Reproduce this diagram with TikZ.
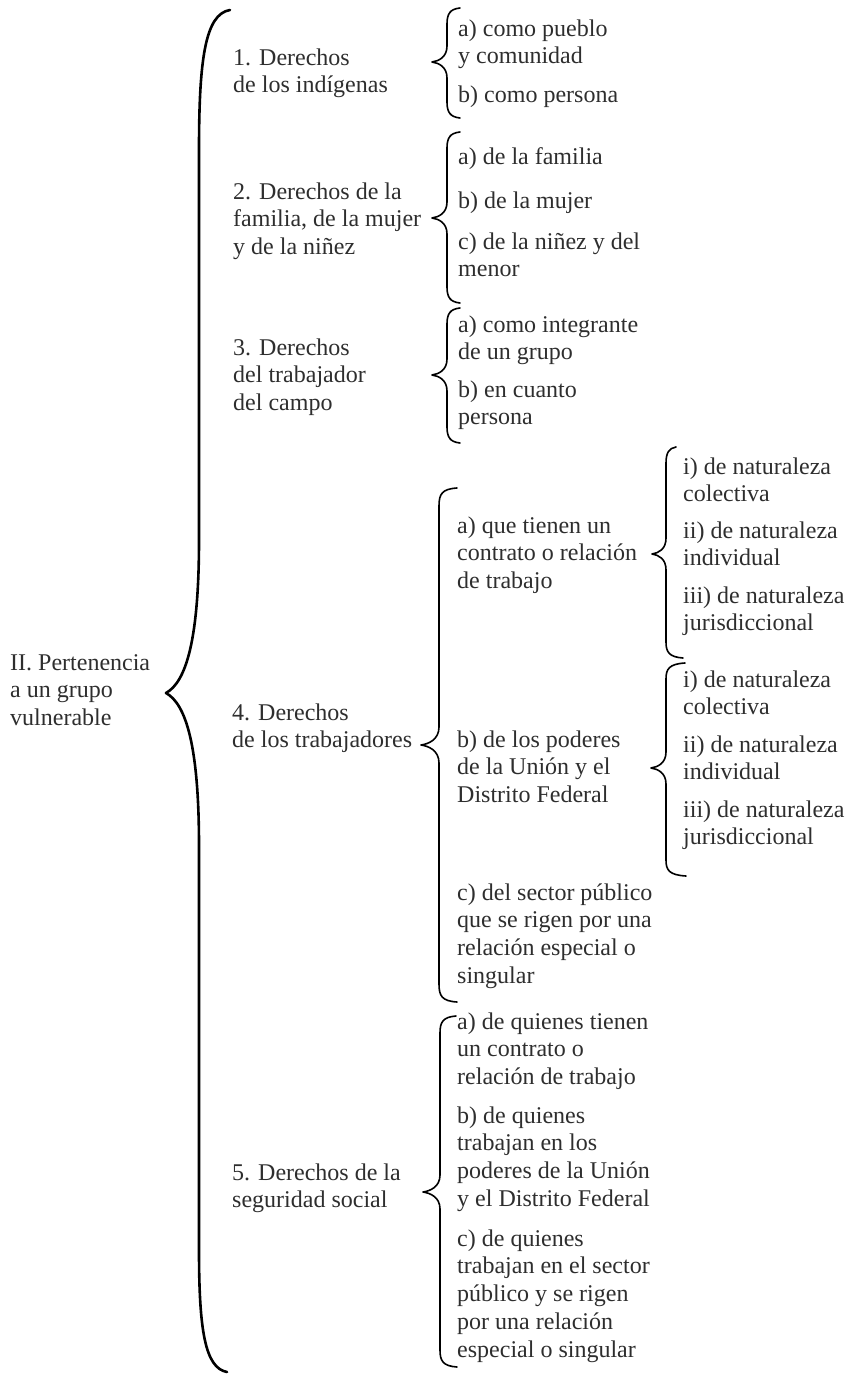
\documentclass[tikz,border=0pt]{standalone}
\usepackage{fontspec}
\setmainfont{Liberation Serif}
\newcommand\sr{\rule{0pt}{20bp}}
% #1,#2 top end; #3 line x; #4,#5 tip; #6,#7 bottom end; #8 curve radius
\newcommand\subbrace[8]{\draw[br] (#1,#2) .. controls (#3+3,#2+1) and (#3,#2+6) .. (#3,#2+#8) -- (#3,#5-#8)
  .. controls (#3,#5-5) and (#4+7,#5-1) .. (#4,#5)
  .. controls (#4+7,#5+1) and (#3,#5+5) .. (#3,#5+#8) -- (#3,#7-#8)
  .. controls (#3,#7-6) and (#3+3,#7-1) .. (#6,#7);}
\begin{document}
\begin{tikzpicture}[x=1bp,y=-1bp,
  txt/.style={anchor=north west,inner sep=0pt,align=left,text=black!82,
    font=\fontsize{24bp}{27.7bp}\selectfont},
  bigbr/.style={draw=black,line width=2.6bp,line cap=round,line join=round},
  br/.style={draw=black,line width=1.6bp,line cap=round,line join=round}]
\useasboundingbox (0,0) rectangle (849,1375);

% root
\node[txt] (root) at (10,650) {\sr II. Pertenencia\\a un grupo\\vulnerable};

% level 1
\node[txt] (n1) at (233,45)  {\sr 1. Derechos\\de los indígenas};
\node[txt] (n2) at (233,179) {\sr 2. Derechos de la\\familia, de la mujer\\y de la niñez};
\node[txt] (n3) at (233,335) {\sr 3. Derechos\\del trabajador\\del campo};
\node[txt] (n4) at (232,700) {\sr 4. Derechos\\de los trabajadores};
\node[txt] (n5) at (232,1160) {\sr 5. Derechos de la\\seguridad social};

% level 2
\node[txt] (n1a) at (458,16)  {\sr a) como pueblo\\y comunidad};
\node[txt] (n1b) at (458,82)  {\sr b) como persona};
\node[txt] (n2a) at (458,144) {\sr a) de la familia};
\node[txt] (n2b) at (458,188) {\sr b) de la mujer};
\node[txt] (n2c) at (458,229) {\sr c) de la niñez y del\\menor};
\node[txt] (n3a) at (458,312) {\sr a) como integrante\\de un grupo};
\node[txt] (n3b) at (458,377) {\sr b) en cuanto\\persona};
\node[txt] (n4a) at (457,513) {\sr a) que tienen un\\contrato o relación\\de trabajo};
\node[txt] (n4b) at (457,727) {\sr b) de los poderes\\de la Unión y el\\Distrito Federal};
\node[txt] (n4c) at (457,880) {\sr c) del sector público\\que se rigen por una\\relación especial o\\singular};
\node[txt] (n5a) at (457,1009) {\sr a) de quienes tienen\\un contrato o\\relación de trabajo};
\node[txt] (n5b) at (457,1103) {\sr b) de quienes\\trabajan en los\\poderes de la Unión\\y el Distrito Federal};
\node[txt] (n5c) at (457,1226) {\sr c) de quienes\\trabajan en el sector\\público y se rigen\\por una relación\\especial o singular};

% level 3
\node[txt] (n4ai)   at (683,454) {\sr i) de naturaleza\\colectiva};
\node[txt] (n4aii)  at (683,518) {\sr ii) de naturaleza\\individual};
\node[txt] (n4aiii) at (683,583) {\sr iii) de naturaleza\\jurisdiccional};
\node[txt] (n4bi)   at (683,667) {\sr i) de naturaleza\\colectiva};
\node[txt] (n4bii)  at (683,732) {\sr ii) de naturaleza\\individual};
\node[txt] (n4biii) at (683,797) {\sr iii) de naturaleza\\jurisdiccional};

% big brace
\draw[bigbr] (230,10) .. controls (205,14) and (199,60) .. (199,150) -- (199,540)
  .. controls (199,640) and (186,682) .. (166,693)
  .. controls (186,704) and (199,746) .. (199,846) -- (199,1250)
  .. controls (199,1330) and (205,1368) .. (227,1372);

% sub braces
\subbrace{460}{8}{447}{432}{62}{460}{118}{16}
\subbrace{460}{132}{447}{432}{218}{460}{303}{16}
\subbrace{460}{308}{447}{432}{375}{460}{443}{16}
\subbrace{457}{488}{439}{421}{745}{457}{1002}{18}
\subbrace{676}{447}{666}{652}{554}{683}{658}{16}
\subbrace{685}{663}{666}{651}{768}{686}{876}{16}
\subbrace{456}{1016}{440}{423}{1192}{457}{1367}{17}
\end{tikzpicture}
\end{document}
